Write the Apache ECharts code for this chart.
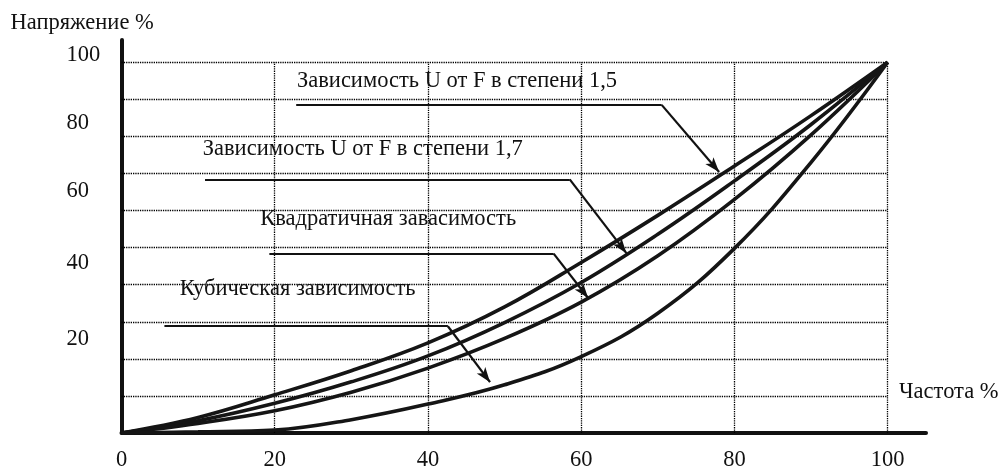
<!DOCTYPE html>
<html>
<head>
<meta charset="utf-8">
<script src="https://cdn.jsdelivr.net/npm/echarts@6/dist/echarts.min.js"></script>
<style>html,body{margin:0;padding:0;background:#fff}#main{width:1000px;height:472px}</style>
</head>
<body>
<div id="main"></div>
<script>
// ---- data ----
const freq   = [0, 10, 20, 30, 40, 50, 60, 70, 80, 90, 100];
const pow15  = [0, 4.2, 10.3, 16.8, 24.3, 34.0, 46.0, 58.7, 72.0, 85.6, 100];
const pow17  = [0, 3.3, 8.0, 13.8, 20.8, 29.8, 40.6, 53.6, 68.0, 83.2, 100];
const pow20  = [0, 2.6, 6.0, 11.0, 17.5, 25.5, 35.3, 47.8, 63.0, 80.4, 100];
const pow30  = [0, 0.3, 0.8, 3.6, 7.8, 13.0, 20.6, 32.3, 49.8, 73.0, 100];
const seriesNames = ['Зависимость U от F в степени 1,5', 'Зависимость U от F в степени 1,7', 'Квадратичная завасимость', 'Кубическая зависимость'];
const xTickLabels = [0, 20, 40, 60, 80, 100];
const yTickLabels = [20, 40, 60, 80, 100];
const xTitle = 'Частота %';
const yTitle = 'Напряжение %';
// annotation callouts (data units): text anchor, leader start, bend, arrow tip
const calloutText  = [[22.9, 95.0], [10.6, 76.6], [18.1, 57.8], [7.6, 38.8]];
const calloutStart = [[22.8, 88.5], [10.9, 68.4], [19.3, 48.4], [5.6, 28.8]];
const calloutBend  = [[70.5, 88.5], [58.5, 68.4], [56.4, 48.4], [42.6, 28.8]];
const calloutTip   = [[78.0, 70.4], [65.9, 48.5], [60.9, 36.4], [48.1, 13.7]];
const gridXs = [20, 40, 60, 80, 100];
const gridYs = [10, 20, 30, 40, 50, 60, 70, 80, 90, 100];

// ---- chart ----
const FONT = '"Liberation Serif","Times New Roman",serif';
const FS = 22.5;
const INK = '#111';
const yLift = {100: 6.7, 80: 13.3, 60: 19, 40: 21.7, 20: 19.4};
const rich = {};
yTickLabels.forEach(v => {
  rich['l' + v] = {fontSize: FS, fontFamily: FONT, color: INK, padding: [0, 0, 2 * yLift[v], 0]};
});

const chart = echarts.init(document.getElementById('main'), null, {renderer: 'canvas'});

const curveSets = [pow15, pow17, pow20, pow30];
const curveSeries = curveSets.map((vals, i) => ({
  name: seriesNames[i],
  type: 'line',
  data: freq.map((x, k) => [x, vals[k]]),
  smooth: 0.4,
  symbol: 'none',
  z: 5,
  lineStyle: {color: '#151515', width: 3.6},
  silent: true
}));

const gridLines = [];
gridYs.forEach(y => gridLines.push([{coord: [0, y]}, {coord: [100, y]}]));
gridXs.forEach(x => gridLines.push([{coord: [x, 0]}, {coord: [x, 100]}]));

const leaderLines = [];
calloutStart.forEach((s, i) => {
  leaderLines.push([{coord: s, symbol: 'none'}, {coord: calloutBend[i], symbol: 'none'}]);
  leaderLines.push([{coord: calloutBend[i], symbol: 'none'}, {coord: calloutTip[i], symbol: 'arrow', symbolSize: [8, 15]}]);
});

const option = {
  animation: false,
  backgroundColor: '#fff',
  grid: {left: 121.5, right: 74, top: 40, bottom: 36.3, containLabel: false},
  xAxis: {
    type: 'value', min: 0, max: 105, interval: 20,
    axisLine: {show: true, onZero: false, lineStyle: {color: INK, width: 4}},
    axisTick: {show: false},
    splitLine: {show: false},
    axisLabel: {
      margin: 16, fontSize: FS, fontFamily: FONT, color: INK,
      formatter: v => xTickLabels.includes(v) ? String(v) : ''
    }
  },
  yAxis: {
    type: 'value', min: 0, max: 106, interval: 10,
    axisLine: {show: true, onZero: false, lineStyle: {color: INK, width: 4}},
    axisTick: {show: false},
    splitLine: {show: false},
    axisLabel: {
      margin: 55, align: 'left', fontSize: FS, fontFamily: FONT, color: INK, rich: rich,
      formatter: v => yTickLabels.includes(v) ? '{l' + v + '|' + v + '}' : ''
    }
  },
  graphic: [
    {type: 'text', x: 10.5, y: 23.5, style: {text: yTitle, fontSize: FS, fontFamily: FONT, fill: INK, verticalAlign: 'middle', align: 'left'}},
    {type: 'text', x: 899, y: 392, style: {text: xTitle, fontSize: FS, fontFamily: FONT, fill: INK, verticalAlign: 'middle', align: 'left'}}
  ],
  series: [
    {
      type: 'line', name: 'grid', data: [], silent: true, z: 1,
      markLine: {
        silent: true, symbol: 'none', animation: false,
        label: {show: false},
        lineStyle: {color: '#000', width: 1.3, type: [1.3, 1]},
        data: gridLines
      }
    },
    ...curveSeries,
    {
      type: 'line', name: 'callouts', data: [], silent: true, z: 6,
      markLine: {
        silent: true, animation: false, symbol: 'none',
        label: {show: false},
        lineStyle: {color: INK, width: 2.2, type: 'solid'},
        data: leaderLines
      },
      markPoint: {
        silent: true, animation: false,
        symbol: 'circle', symbolSize: 0,
        label: {show: true, position: 'right', distance: 0, fontSize: FS, fontFamily: FONT, color: INK, formatter: p => p.name},
        data: calloutText.map((c, i) => ({name: seriesNames[i], coord: c}))
      }
    }
  ]
};
chart.setOption(option);
</script>
</body>
</html>
